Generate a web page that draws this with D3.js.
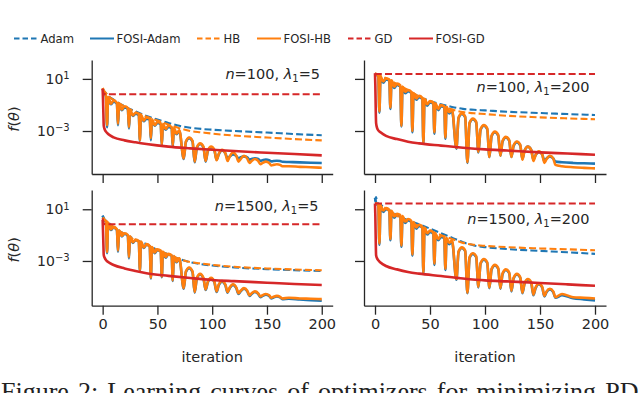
<!DOCTYPE html>
<html><head><meta charset="utf-8">
<script src="https://cdn.jsdelivr.net/npm/d3@7"></script>
<style>
body{margin:0;background:#fff}
svg{display:block}
text{font-family:"DejaVu Sans",sans-serif;fill:#262626}
text.caption{font-family:"Liberation Serif","Times New Roman",serif;fill:#222;word-spacing:2.6px}
</style>
</head><body>
<svg id="c" width="640" height="393"></svg>
<script>
// ---------------- DATA (values are log10 f(theta)) ----------------
const seriesNames = ["Adam","FOSI-Adam","HB","FOSI-HB","GD","FOSI-GD"];
const seriesColors = ["#1f77b4","#1f77b4","#ff7f0e","#ff7f0e","#d62728","#d62728"];
const seriesDashed = [true,false,true,false,true,false];
const xTicks = [0,50,100,150,200];
const yTickExps = [1,-3];
const panelN = ["100","100","1500","1500"];
const panelLambda = ["5","200","5","200"];

const dashIters = [0,1,2,5,10,20,30,40,50,60,70,80,90,100,120,150,175,200];
const gdIters = [0,0.3,0.7,1,2,3,5,10,20,30,40,60,80,100,120,150,175,200];
const solidIters = [0,1.5,
 3,4,5,7.5,10, 13,14,15,17.5,20, 23,24,25,27.5,30, 33,34,35,37.5,40,
 43,44,45,47.5,50, 53,54,55,57.5,60, 63,64,65,67.5,70,
 74,76,79,82, 84,86,89,92, 94,96,99,102, 104,106,109,112, 114,116,119,122,
 124,126,129,132, 134,136,139,142, 144,146,149,152, 154,156,159,162,
 164,170,180,190,200];

// top-left: n=100, lambda1=5
const tlAdam = [0.25,0.1,0.0,-0.3,-0.6,-1.1,-1.5,-1.85,-2.12,-2.38,-2.6,-2.75,-2.84,-2.9,-3.0,-3.12,-3.23,-3.33];
const tlHB = [0.25,0.1,0.0,-0.3,-0.62,-1.12,-1.55,-1.9,-2.2,-2.5,-2.78,-3.0,-3.1,-3.2,-3.35,-3.5,-3.62,-3.72];
const tlGD = [0.25,-0.12,-0.16,-0.18,-0.18,-0.18,-0.18,-0.18,-0.18,-0.18,-0.18,-0.18,-0.18,-0.18,-0.18,-0.18,-0.18,-0.18];
const tlFosiGD = [0.2,-0.5,-1.8,-2.6,-2.9,-3.05,-3.23,-3.49,-3.72,-3.87,-4.0,-4.2,-4.33,-4.44,-4.54,-4.67,-4.77,-4.87];
const tlFosiAdam = [0.25,-0.1,
 -0.35,-2.7,-0.5,-0.95,-0.75,
 -0.9,-2.55,-1.0,-1.4,-1.2,
 -1.3,-2.8,-1.45,-1.85,-1.68,
 -1.78,-3.75,-1.85,-2.25,-2.05,
 -2.12,-3.7,-2.2,-2.6,-2.38,
 -2.48,-4.1,-2.55,-2.9,-2.68,
 -2.78,-4.2,-2.85,-3.25,-3.0,
 -5.15,-3.85,-3.55,-3.8,
 -5.4,-4.3,-4.0,-4.25,
 -5.35,-4.55,-4.25,-4.5,
 -5.2,-4.8,-4.5,-4.72,
 -5.1,-4.95,-4.8,-4.92,
 -5.1,-5.02,-4.95,-5.02,
 -5.2,-5.15,-5.1,-5.15,
 -5.28,-5.24,-5.2,-5.24,
 -5.33,-5.3,-5.28,-5.3,
 -5.36,-5.38,-5.41,-5.44,-5.46];
const tlFosiHB = [0.3,-0.05,
 -0.3,-2.55,-0.4,-0.9,-0.65,
 -0.85,-2.45,-0.9,-1.35,-1.1,
 -1.25,-2.7,-1.35,-1.8,-1.6,
 -1.7,-3.7,-1.75,-2.2,-1.95,
 -2.05,-3.55,-2.1,-2.55,-2.3,
 -2.4,-4.05,-2.45,-2.85,-2.6,
 -2.7,-4.1,-2.75,-3.2,-2.95,
 -5.1,-3.8,-3.5,-3.75,
 -5.35,-4.25,-3.95,-4.2,
 -5.3,-4.5,-4.2,-4.45,
 -5.25,-4.75,-4.45,-4.7,
 -5.3,-4.95,-4.65,-4.9,
 -5.35,-5.15,-4.9,-5.12,
 -5.45,-5.3,-5.15,-5.3,
 -5.55,-5.45,-5.35,-5.45,
 -5.65,-5.6,-5.55,-5.6,
 -5.7,-5.7,-5.75,-5.78,-5.82];

// top-right: n=100, lambda1=200
const trAdam = [1.4,1.35,1.3,1.2,1.0,0.55,0.1,-0.35,-0.7,-0.95,-1.15,-1.3,-1.37,-1.42,-1.52,-1.62,-1.7,-1.77];
const trHB = [1.4,1.35,1.3,1.22,1.05,0.6,0.15,-0.35,-0.75,-1.05,-1.35,-1.55,-1.64,-1.7,-1.83,-1.95,-2.03,-2.1];
const trGD = [1.43,1.38,1.38,1.38,1.38,1.38,1.38,1.38,1.38,1.38,1.38,1.38,1.38,1.38,1.38,1.38,1.38,1.38];
const trFosiGD = [1.43,0.5,-1.5,-2.4,-2.8,-2.95,-3.1,-3.38,-3.62,-3.82,-3.95,-4.12,-4.28,-4.41,-4.5,-4.64,-4.73,-4.82];
const trFosiAdam = [1.4,1.3,
 1.2,-1.6,1.1,0.7,0.95,
 0.85,-1.3,0.8,0.3,0.55,
 0.4,-2.65,0.32,-0.1,0.05,
 -0.1,-3.1,-0.18,-0.6,-0.4,
 -0.55,-3.95,-0.62,-1.05,-0.8,
 -0.9,-3.2,-0.98,-1.4,-1.1,
 -1.2,-3.6,-1.25,-1.65,-1.45,
 -4.35,-2.0,-1.7,-1.95,
 -5.45,-2.4,-2.1,-2.35,
 -4.65,-2.9,-2.6,-2.85,
 -5.0,-3.4,-3.1,-3.35,
 -4.9,-3.8,-3.5,-3.75,
 -5.0,-4.15,-3.85,-4.1,
 -5.15,-4.5,-4.2,-4.45,
 -5.2,-4.85,-4.6,-4.8,
 -5.3,-5.1,-4.95,-5.1,
 -5.35,-5.4,-5.45,-5.48,-5.5];
const trFosiHB = [1.43,1.35,
 1.3,-1.5,1.2,0.8,1.05,
 0.95,-1.2,0.9,0.4,0.65,
 0.5,-2.6,0.42,0.0,0.15,
 0.0,-3.0,-0.08,-0.5,-0.3,
 -0.45,-3.9,-0.52,-0.95,-0.7,
 -0.8,-3.1,-0.88,-1.3,-1.0,
 -1.1,-3.5,-1.15,-1.55,-1.35,
 -4.3,-1.95,-1.65,-1.9,
 -5.4,-2.35,-2.05,-2.3,
 -4.6,-2.85,-2.55,-2.8,
 -5.0,-3.35,-3.05,-3.3,
 -4.9,-3.75,-3.45,-3.7,
 -5.0,-4.1,-3.8,-4.05,
 -5.2,-4.5,-4.2,-4.45,
 -5.3,-4.85,-4.55,-4.8,
 -5.45,-5.15,-4.9,-5.1,
 -5.6,-5.7,-5.78,-5.83,-5.87];

// bottom-left: n=1500, lambda1=5
const blAdam = [0.5,0.3,0.2,0.0,-0.4,-0.9,-1.35,-1.7,-2.15,-2.5,-2.85,-3.1,-3.25,-3.35,-3.5,-3.63,-3.71,-3.78];
const blHB = [0.35,0.25,0.15,0.0,-0.4,-0.92,-1.4,-1.75,-2.15,-2.5,-2.85,-3.08,-3.2,-3.3,-3.45,-3.58,-3.66,-3.72];
const blGD = [0.3,-0.1,-0.15,-0.16,-0.16,-0.16,-0.16,-0.16,-0.16,-0.16,-0.16,-0.16,-0.16,-0.16,-0.16,-0.16,-0.16,-0.16];
const blFosiGD = [0.17,-0.6,-1.8,-2.54,-2.78,-2.92,-3.08,-3.31,-3.58,-3.78,-3.95,-4.15,-4.32,-4.47,-4.56,-4.68,-4.78,-4.86];
const blFosiAdam = [0.5,0.15,
 0.02,-2.4,-0.1,-0.6,-0.4,
 -0.6,-2.3,-0.68,-1.1,-0.9,
 -1.05,-2.8,-1.15,-1.6,-1.4,
 -1.5,-3.75,-1.55,-2.0,-1.75,
 -1.9,-4.35,-1.97,-2.4,-2.15,
 -2.25,-4.25,-2.33,-2.75,-2.5,
 -2.6,-4.55,-2.67,-3.1,-2.85,
 -5.15,-3.85,-3.55,-3.85,
 -5.45,-4.35,-4.05,-4.35,
 -5.25,-4.65,-4.35,-4.65,
 -5.4,-4.87,-4.6,-4.87,
 -5.45,-5.1,-4.85,-5.1,
 -5.55,-5.35,-5.15,-5.35,
 -5.7,-5.55,-5.4,-5.55,
 -5.8,-5.7,-5.6,-5.7,
 -5.9,-5.82,-5.75,-5.82,
 -5.95,-5.92,-5.98,-6.03,-6.08];
const blFosiHB = [0.35,0.2,
 0.08,-2.3,-0.05,-0.55,-0.35,
 -0.55,-2.2,-0.62,-1.05,-0.85,
 -1.0,-2.7,-1.1,-1.55,-1.35,
 -1.45,-3.7,-1.5,-1.95,-1.7,
 -1.85,-4.3,-1.92,-2.35,-2.1,
 -2.2,-4.2,-2.28,-2.7,-2.45,
 -2.55,-4.5,-2.62,-3.05,-2.8,
 -5.1,-3.8,-3.5,-3.8,
 -5.4,-4.3,-4.0,-4.3,
 -5.2,-4.6,-4.3,-4.6,
 -5.35,-4.82,-4.55,-4.82,
 -5.4,-5.05,-4.8,-5.05,
 -5.5,-5.3,-5.1,-5.3,
 -5.65,-5.5,-5.35,-5.5,
 -5.75,-5.65,-5.55,-5.65,
 -5.85,-5.77,-5.7,-5.77,
 -5.9,-5.85,-5.9,-5.92,-5.95];

// bottom-right: n=1500, lambda1=200
const brAdam = [1.6,1.95,1.5,1.35,1.1,0.55,0.15,-0.15,-0.5,-0.85,-1.2,-1.55,-1.8,-1.93,-2.08,-2.22,-2.33,-2.45];
const brHB = [1.45,1.45,1.4,1.3,1.05,0.5,0.05,-0.3,-0.65,-1.0,-1.3,-1.6,-1.75,-1.83,-1.93,-2.03,-2.1,-2.17];
const brGD = [1.44,1.44,1.44,1.44,1.44,1.44,1.44,1.44,1.44,1.44,1.44,1.44,1.44,1.44,1.44,1.44,1.44,1.44];
const brFosiGD = [1.44,0.5,-1.6,-2.56,-2.82,-2.95,-3.12,-3.39,-3.65,-3.85,-3.98,-4.16,-4.35,-4.5,-4.58,-4.7,-4.81,-4.92];
const brFosiAdam = [1.9,1.4,
 1.3,-1.75,1.2,0.8,1.0,
 0.88,-1.4,0.8,0.35,0.55,
 0.45,-1.9,0.38,-0.05,0.15,
 0.0,-2.6,-0.08,-0.5,-0.3,
 -0.45,-3.95,-0.52,-0.95,-0.75,
 -0.9,-3.3,-0.98,-1.4,-1.15,
 -1.25,-3.7,-1.32,-1.7,-1.5,
 -4.45,-2.3,-2.0,-2.25,
 -5.5,-2.75,-2.45,-2.7,
 -5.05,-3.2,-2.9,-3.15,
 -5.1,-3.65,-3.35,-3.6,
 -5.15,-4.0,-3.7,-3.95,
 -5.35,-4.35,-4.05,-4.3,
 -5.5,-4.75,-4.45,-4.7,
 -5.65,-5.1,-4.8,-5.05,
 -5.75,-5.4,-5.2,-5.4,
 -5.85,-5.65,-5.88,-5.97,-6.05];
const brFosiHB = [1.45,1.45,
 1.4,-1.65,1.3,0.9,1.1,
 0.95,-1.3,0.88,0.45,0.65,
 0.55,-1.8,0.48,0.05,0.25,
 0.1,-2.5,0.02,-0.4,-0.2,
 -0.35,-3.9,-0.42,-0.85,-0.65,
 -0.8,-3.2,-0.88,-1.3,-1.05,
 -1.15,-3.6,-1.22,-1.6,-1.4,
 -4.4,-2.25,-1.95,-2.2,
 -5.45,-2.7,-2.4,-2.65,
 -5.0,-3.15,-2.85,-3.1,
 -5.05,-3.6,-3.3,-3.55,
 -5.1,-3.95,-3.65,-3.9,
 -5.3,-4.3,-4.0,-4.25,
 -5.45,-4.7,-4.4,-4.65,
 -5.6,-5.05,-4.75,-5.0,
 -5.7,-5.35,-5.15,-5.35,
 -5.8,-5.55,-5.8,-5.85,-5.9];

const captionText = "Figure 2:  Learning curves of optimizers for minimizing PD";

// ---------------- LAYOUT ----------------
const panelData = [
  [tlAdam, tlFosiAdam, tlHB, tlFosiHB, tlGD, tlFosiGD],
  [trAdam, trFosiAdam, trHB, trFosiHB, trGD, trFosiGD],
  [blAdam, blFosiAdam, blHB, blFosiHB, blGD, blFosiGD],
  [brAdam, brFosiAdam, brHB, brFosiHB, brGD, brFosiGD]
];
const seriesIters = [dashIters, solidIters, dashIters, solidIters, dashIters, gdIters];

const cols = [{x0:91.7, x1:332.7}, {x0:364, x1:606}];
const rows = [{yT:60, yB:174, lo:-6.3, hi:2.45}, {yT:190, yB:305.7, lo:-6.46, hi:2.49}];
const labelPos = [[320,78.5],[589.5,91.5],[318.5,210.5],[589.5,223.5]];

const svg = d3.select("#c");
svg.append("rect").attr("width",640).attr("height",393).attr("fill","#fff");

const defs = svg.append("defs");

panelData.forEach((series, p) => {
  const ci = p % 2, ri = Math.floor(p / 2);
  const C = cols[ci], R = rows[ri];
  const x = d3.scaleLinear().domain([-10,210]).range([C.x0, C.x1]);
  const y = d3.scaleLog().domain([Math.pow(10,R.lo), Math.pow(10,R.hi)]).range([R.yB, R.yT]);

  const clipId = "clip"+p;
  defs.append("clipPath").attr("id",clipId).append("rect")
    .attr("x",C.x0).attr("y",R.yT).attr("width",C.x1-C.x0).attr("height",R.yB-R.yT);

  const g = svg.append("g").attr("clip-path",`url(#${clipId})`);
  series.forEach((vals, s) => {
    const its = seriesIters[s];
    const pts = vals.map((v,i) => [its[i], Math.pow(10, v)]);
    const line = d3.line().x(d => x(d[0])).y(d => y(d[1])).curve(d3.curveMonotoneX);
    g.append("path").attr("d", line(pts))
      .attr("fill","none")
      .attr("stroke", seriesColors[s])
      .attr("stroke-width", seriesDashed[s] ? 2.1 : 2.6)
      .attr("stroke-linejoin","round")
      .attr("stroke-dasharray", seriesDashed[s] ? "7,3.2" : null);
  });

  // x axis
  const xa = d3.axisBottom(x).tickValues(xTicks).tickSize(9).tickSizeOuter(0).tickPadding(4)
    .tickFormat(ri === 1 ? d3.format("d") : () => "");
  const gx = svg.append("g").attr("transform",`translate(0,${R.yB})`).call(xa);
  gx.select(".domain").attr("stroke","#262626").attr("stroke-width",1.3);
  gx.selectAll(".tick line").attr("stroke","#262626").attr("stroke-width",1.3);
  gx.selectAll(".tick text").attr("font-size",14.5).attr("fill","#262626");

  // y axis
  const ya = d3.axisLeft(y).tickValues(yTickExps.map(e => Math.pow(10,e))).tickSize(9).tickSizeOuter(0).tickPadding(13)
    .tickFormat(() => "");
  const gy = svg.append("g").attr("transform",`translate(${C.x0},0)`).call(ya);
  gy.select(".domain").attr("stroke","#262626").attr("stroke-width",1.3);
  gy.selectAll(".tick line").attr("stroke","#262626").attr("stroke-width",1.3);
  if (ci === 0) {
    gy.selectAll(".tick text").each(function(d){
      const t = d3.select(this).attr("font-size",14).attr("fill","#262626");
      t.text(null);
      t.append("tspan").text("10");
      const e = Math.round(Math.log10(d));
      t.append("tspan").attr("dy","-0.45em").attr("font-size",10).text(e < 0 ? "\u2212"+(-e) : String(e));
    });
    svg.append("text")
      .attr("transform",`translate(19,${(R.yT+R.yB)/2+2}) rotate(-90)`)
      .attr("text-anchor","middle").attr("font-size",14.5)
      .call(t => {
        t.append("tspan").attr("font-style","italic").text("f");
        t.append("tspan").text("(");
        t.append("tspan").attr("font-style","italic").text("\u03b8");
        t.append("tspan").text(")");
      });
  } else {
    gy.selectAll(".tick text").remove();
  }

  // panel annotation
  const [lx, ly] = labelPos[p];
  const ann = svg.append("text").attr("x",lx).attr("y",ly).attr("text-anchor","end").attr("font-size",14.5);
  ann.append("tspan").attr("font-style","italic").text("n");
  ann.append("tspan").text("=" + panelN[p] + ", ");
  ann.append("tspan").attr("font-style","italic").text("\u03bb");
  ann.append("tspan").attr("font-size",10).attr("dy",3).text("1");
  ann.append("tspan").attr("dy",-3).text("=" + panelLambda[p]);

  if (ri === 1) {
    svg.append("text").attr("x",(x(0)+x(200))/2).attr("y",361.5).attr("text-anchor","middle")
      .attr("font-size",14.5).text("iteration");
  }
});

// legend
const legendX = [14, 90, 197, 257, 348, 409];
const lg = svg.append("g");
seriesNames.forEach((name, s) => {
  const lx = legendX[s];
  lg.append("line").attr("x1",lx).attr("x2",lx+24).attr("y1",38.5).attr("y2",38.5)
    .attr("stroke",seriesColors[s]).attr("stroke-width",2)
    .attr("stroke-dasharray", seriesDashed[s] ? "5.5,3" : null);
  lg.append("text").attr("x",lx+26.5).attr("y",42.8).attr("font-size",11.6).text(name);
});

// caption (its lower half is cut by the bottom edge, as in the source page)
svg.append("text").attr("class","caption").attr("x",1).attr("y",400).attr("font-size",26)
  .text(captionText);
</script>
</body></html>
